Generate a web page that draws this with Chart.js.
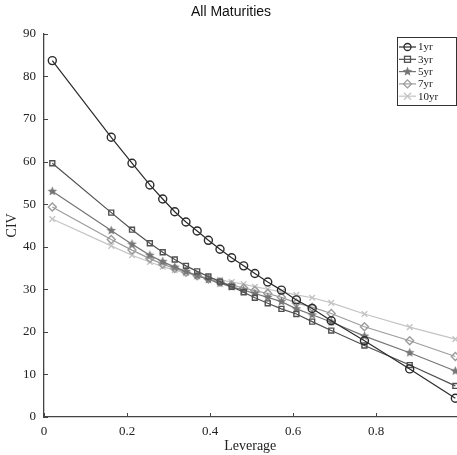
<!DOCTYPE html>
<html>
<head>
<meta charset="utf-8">
<script src="https://cdn.jsdelivr.net/npm/chart.js@4"></script>
<style>
  html, body { margin: 0; padding: 0; background: #fff; overflow: hidden; width: 457px; height: 455px; }
  #wrap { width: 462px; height: 455px; position: relative; }
</style>
</head>
<body>
<div id="wrap"><canvas id="civChart"></canvas></div>
<script>
    // Leverage values (shared by every maturity)
    const leverage = [0.02, 0.162, 0.212, 0.255, 0.286, 0.315, 0.342, 0.369, 0.396, 0.424, 0.452,
                      0.481, 0.508, 0.539, 0.572, 0.608, 0.646, 0.692, 0.772, 0.881, 0.991];

    // CIV per maturity
    const civ1yr  = [83.7, 65.7, 59.6, 54.5, 51.2, 48.2, 45.8, 43.7, 41.5, 39.4, 37.4,
                     35.5, 33.7, 31.7, 29.8, 27.5, 25.5, 22.6, 17.9, 11.3, 4.4];
    const civ3yr  = [59.6, 48.0, 44.0, 40.8, 38.7, 37.0, 35.5, 34.2, 33.0, 31.8, 30.6,
                     29.3, 28.0, 26.7, 25.4, 24.2, 22.4, 20.3, 16.8, 12.2, 7.3];
    const civ5yr  = [53.0, 43.8, 40.6, 38.0, 36.5, 35.2, 34.2, 33.2, 32.3, 31.4, 30.6,
                     29.8, 29.0, 28.1, 27.1, 25.4, 24.0, 22.3, 19.0, 15.1, 10.8];
    const civ7yr  = [49.3, 41.7, 39.2, 37.2, 35.9, 34.9, 34.0, 33.2, 32.4, 31.7, 31.0,
                     30.3, 29.7, 29.0, 28.1, 26.8, 25.8, 24.3, 21.2, 17.9, 14.2];
    const civ10yr = [46.5, 40.2, 38.0, 36.4, 35.3, 34.5, 33.8, 33.2, 32.7, 32.2, 31.7,
                     31.2, 30.6, 30.0, 29.4, 28.7, 28.0, 26.8, 24.2, 21.1, 18.3];

    const seriesNames = ['1yr', '3yr', '5yr', '7yr', '10yr'];
    const xTicks = [0, 0.2, 0.4, 0.6, 0.8];
    const yTicks = [0, 10, 20, 30, 40, 50, 60, 70, 80, 90];

    const colors = ['#2b2b2b', '#505050', '#757575', '#9c9c9c', '#c4c4c4'];
    const markers = ['circle', 'rect', 'star5', 'rectRot', 'crossRot'];

    // Filled five-point star (Chart.js 'star' is an asterisk)
    function makeStar(color) {
      const c = document.createElement('canvas');
      c.width = 11; c.height = 11;
      const g = c.getContext('2d');
      g.beginPath();
      for (let i = 0; i < 10; i++) {
        const r = i % 2 === 0 ? 5 : 2.2;
        const a = -Math.PI / 2 + i * Math.PI / 5;
        g.lineTo(5.5 + r * Math.cos(a), 5.5 + r * Math.sin(a));
      }
      g.closePath();
      g.fillStyle = color;
      g.fill();
      return c;
    }
    const starImg = makeStar(colors[2]);

    function pointStyleFor(i) {
      return markers[i] === 'star5' ? starImg : markers[i];
    }

    const allValues = [civ1yr, civ3yr, civ5yr, civ7yr, civ10yr];
    const datasets = allValues.map((vals, i) => ({
      label: seriesNames[i],
      data: leverage.map((x, j) => ({ x: x, y: vals[j] })),
      borderColor: colors[i],
      backgroundColor: 'rgba(0,0,0,0)',
      borderWidth: 1.2,
      pointStyle: pointStyleFor(i),
      pointRadius: markers[i] === 'rect' ? 3.5 : 4,
      pointBorderWidth: 1.4,
      pointBorderColor: colors[i],
      pointBackgroundColor: 'rgba(0,0,0,0)',
      tension: 0,
      clip: false
    }));

    // Draw a legend marker by hand
    function drawMarker(ctx, type, x, y, color) {
      ctx.save();
      ctx.strokeStyle = color;
      ctx.lineWidth = 1.3;
      ctx.beginPath();
      if (type === 'circle') {
        ctx.arc(x, y, 3.5, 0, Math.PI * 2);
        ctx.stroke();
      } else if (type === 'rect') {
        ctx.strokeRect(x - 3, y - 3, 6, 6);
      } else if (type === 'rectRot') {
        ctx.moveTo(x, y - 4); ctx.lineTo(x + 4, y); ctx.lineTo(x, y + 4); ctx.lineTo(x - 4, y);
        ctx.closePath(); ctx.stroke();
      } else if (type === 'crossRot') {
        ctx.moveTo(x - 3.5, y - 3.5); ctx.lineTo(x + 3.5, y + 3.5);
        ctx.moveTo(x + 3.5, y - 3.5); ctx.lineTo(x - 3.5, y + 3.5);
        ctx.stroke();
      } else if (type === 'star5') {
        ctx.drawImage(starImg, x - 5.5, y - 5.5);
      }
      ctx.restore();
    }

    // Inward tick marks + boxed legend inside the plot
    const axesPlugin = {
      id: 'axesExtras',
      afterDraw(chart) {
        const ctx = chart.ctx;
        const xs = chart.scales.x, ys = chart.scales.y;
        const area = chart.chartArea;
        ctx.save();
        ctx.strokeStyle = '#444';
        ctx.lineWidth = 1;
        ctx.beginPath();
        xTicks.forEach(v => {
          const px = Math.round(xs.getPixelForValue(v)) + 0.5;
          ctx.moveTo(px, area.bottom);
          ctx.lineTo(px, area.bottom - 4);
        });
        yTicks.forEach(v => {
          const py = Math.round(ys.getPixelForValue(v)) + 0.5;
          ctx.moveTo(area.left, py);
          ctx.lineTo(area.left + 4, py);
        });
        ctx.stroke();

        // legend box
        const bx = 397.5, by = 37.5, bw = 59, bh = 68;
        ctx.fillStyle = '#fff';
        ctx.fillRect(bx, by, bw, bh);
        ctx.strokeStyle = '#333';
        ctx.strokeRect(bx, by, bw, bh);
        ctx.font = '11px "Liberation Serif", serif';
        ctx.textBaseline = 'middle';
        seriesNames.forEach((name, i) => {
          const y = 47 + i * 12.3;
          ctx.strokeStyle = colors[i];
          ctx.lineWidth = 1.2;
          ctx.beginPath();
          ctx.moveTo(399, y);
          ctx.lineTo(416, y);
          ctx.stroke();
          drawMarker(ctx, markers[i], 407.5, y, colors[i]);
          ctx.fillStyle = '#222';
          ctx.fillText(name, 418, y + 0.5);
        });
        ctx.restore();
      }
    };

    const ctx = document.getElementById('civChart').getContext('2d');
    const civChart = new Chart(ctx, {
      type: 'line',
      data: { datasets: datasets },
      plugins: [axesPlugin],
      options: {
        responsive: true,
        maintainAspectRatio: false,
        animation: false,
        layout: { padding: 0 },
        plugins: {
          legend: { display: false },
          tooltip: { enabled: false },
          title: {
            display: true,
            text: 'All Maturities',
            color: '#111',
            font: { family: '"Liberation Sans", sans-serif', size: 14, weight: 'normal' },
            padding: { top: 4, bottom: 13 }
          }
        },
        scales: {
          x: {
            type: 'linear',
            min: 0,
            max: 0.994,
            afterFit(scale) { scale.height = 38; },
            afterBuildTicks(scale) { scale.ticks = xTicks.map(v => ({ value: v })); },
            grid: { display: false, drawTicks: false },
            border: { display: true, color: '#444', width: 1.3 },
            ticks: {
              color: '#222',
              padding: 7,
              maxRotation: 0,
              font: { family: '"Liberation Serif", serif', size: 13 },
              callback: v => String(v)
            },
            title: {
              display: true,
              text: 'Leverage',
              color: '#222',
              font: { family: '"Liberation Serif", serif', size: 14 },
              padding: { top: 0, bottom: 0 }
            }
          },
          y: {
            type: 'linear',
            min: 0,
            max: 90,
            afterFit(scale) { scale.width = 44; },
            afterBuildTicks(scale) { scale.ticks = yTicks.map(v => ({ value: v })); },
            grid: { display: false, drawTicks: false },
            border: { display: true, color: '#444', width: 1.3 },
            ticks: {
              color: '#222',
              padding: 8,
              font: { family: '"Liberation Serif", serif', size: 13 }
            },
            title: {
              display: true,
              text: 'CIV',
              color: '#222',
              font: { family: '"Liberation Serif", serif', size: 14 },
              padding: { top: 4, bottom: 0 }
            }
          }
        }
      }
    });
</script>
</body>
</html>
